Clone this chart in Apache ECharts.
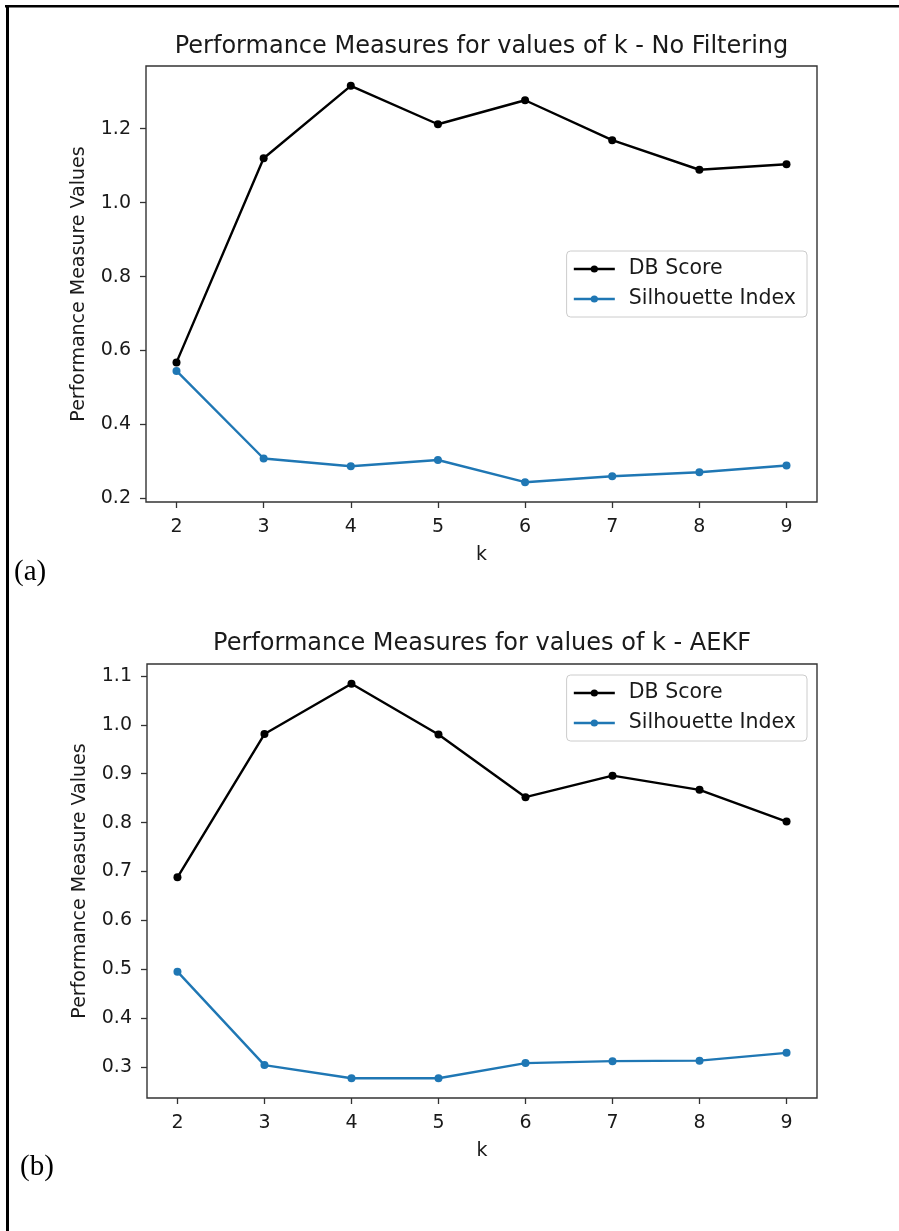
<!DOCTYPE html>
<html>
<head>
<meta charset="utf-8">
<script src="https://cdn.jsdelivr.net/npm/echarts@6/dist/echarts.min.js"></script>
<style>
  html, body { margin: 0; padding: 0; background: #ffffff; }
  #chart { width: 899px; height: 1231px; }
</style>
</head>
<body>
<div id="chart"></div>
<script>
// Number of clusters evaluated
const kValues = [2, 3, 4, 5, 6, 7, 8, 9];

// Panel (a): no filtering
const dbScoreNoFilter    = [0.568, 1.120, 1.316, 1.212, 1.277, 1.169, 1.089, 1.104];
const silhouetteNoFilter = [0.545, 0.308, 0.287, 0.304, 0.244, 0.260, 0.271, 0.289];

// Panel (b): AEKF
const dbScoreAekf    = [0.688, 0.981, 1.084, 0.980, 0.852, 0.896, 0.867, 0.802];
const silhouetteAekf = [0.495, 0.304, 0.277, 0.277, 0.308, 0.312, 0.313, 0.329];

// Tick labels
const xTicks = [2, 3, 4, 5, 6, 7, 8, 9];
const yTicksNoFilter = [0.2, 0.4, 0.6, 0.8, 1.0, 1.2];
const yTicksAekf = [0.3, 0.4, 0.5, 0.6, 0.7, 0.8, 0.9, 1.0, 1.1];

const panelTitles = [
  'Performance Measures for values of k - No Filtering',
  'Performance Measures for values of k - AEKF'
];
const panelTags = ['(a)', '(b)'];
const seriesNames = ['DB Score', 'Silhouette Index'];

const FONT = 'DejaVu Sans';
const INK = '#1a1a1a';
const SPINE = '#333333';
const COLORS = ['#000000', '#1f77b4'];

// 5% padding on each side of the data range, like matplotlib autoscaling
const padMin = e => e.min - 0.05 * (e.max - e.min);
const padMax = e => e.max + 0.05 * (e.max - e.min);

const grids = [
  { left: 146, top: 66, width: 671, height: 436 },
  { left: 147, top: 664, width: 670, height: 434 }
];

function xAxisFor(gridIndex) {
  return {
    type: 'value', gridIndex,
    min: padMin, max: padMax,
    axisLine: { show: false },
    splitLine: { show: false },
    axisTick: { show: true, length: 6, customValues: xTicks,
                lineStyle: { color: SPINE, width: 1.3 } },
    axisLabel: { customValues: xTicks, margin: 16, fontSize: 19,
                 fontFamily: FONT, color: INK },
    name: 'k', nameLocation: 'middle', nameGap: 44,
    nameTextStyle: { fontSize: 19, fontFamily: FONT, color: INK }
  };
}

function yAxisFor(gridIndex, ticks) {
  return {
    type: 'value', gridIndex,
    min: padMin, max: padMax,
    axisLine: { show: false },
    splitLine: { show: false },
    axisTick: { show: true, length: 6, customValues: ticks,
                lineStyle: { color: SPINE, width: 1.3 } },
    axisLabel: { customValues: ticks, margin: 15, fontSize: 19,
                 fontFamily: FONT, color: INK,
                 formatter: v => v.toFixed(1) },
    name: 'Performance Measure Values', nameLocation: 'middle',
    nameGap: 57, nameRotate: 90,
    nameTextStyle: { fontSize: 19, fontFamily: FONT, color: INK }
  };
}

function lineSeries(name, values, idx, color) {
  return {
    type: 'line', name,
    xAxisIndex: idx, yAxisIndex: idx,
    data: kValues.map((k, i) => [k, values[i]]),
    symbol: 'circle', symbolSize: 8,
    showSymbol: true,
    lineStyle: { color, width: 2.4 },
    itemStyle: { color },
    emphasis: { disabled: true },
    animation: false
  };
}

function legendFor(idx, top) {
  return {
    orient: 'vertical',
    right: 92, top,
    data: seriesNames.map(n => ({ name: n })),
    itemWidth: 41, itemHeight: 9, itemGap: 8,
    padding: [7, 11, 7, 6],
    borderColor: '#cccccc', borderWidth: 1, borderRadius: 4,
    backgroundColor: 'rgba(255,255,255,0.8)',
    lineStyle: { width: 2.4 },
    textStyle: { fontSize: 20.5, fontFamily: FONT, color: INK,
                 lineHeight: 22, padding: [0, 0, 0, 9] },
    selectedMode: false
  };
}

const chart = echarts.init(document.getElementById('chart'), null, { renderer: 'canvas' });

chart.setOption({
  animation: false,
  backgroundColor: '#ffffff',
  title: [
    { text: panelTitles[0], left: 481.5, top: 33, textAlign: 'center', padding: 0,
      textStyle: { fontSize: 24, fontWeight: 'normal', fontFamily: FONT, color: INK, lineHeight: 28 } },
    { text: panelTitles[1], left: 482, top: 630, textAlign: 'center', padding: 0,
      textStyle: { fontSize: 24, fontWeight: 'normal', fontFamily: FONT, color: INK, lineHeight: 28 } }
  ],
  grid: grids.map(g => Object.assign({ show: true, borderColor: SPINE, borderWidth: 1.4,
                                       backgroundColor: 'transparent' }, g)),
  xAxis: [xAxisFor(0), xAxisFor(1)],
  yAxis: [yAxisFor(0, yTicksNoFilter), yAxisFor(1, yTicksAekf)],
  legend: [legendFor(0, 251), legendFor(1, 675)],
  series: [
    lineSeries(seriesNames[0], dbScoreNoFilter, 0, COLORS[0]),
    lineSeries(seriesNames[1], silhouetteNoFilter, 0, COLORS[1]),
    lineSeries(seriesNames[0], dbScoreAekf, 1, COLORS[0]),
    lineSeries(seriesNames[1], silhouetteAekf, 1, COLORS[1])
  ],
  graphic: [
    // page frame: top and left rules
    { type: 'rect', shape: { x: 5, y: 5, width: 894, height: 2.5 }, style: { fill: '#000' }, silent: true },
    { type: 'rect', shape: { x: 6, y: 5, width: 3, height: 1226 }, style: { fill: '#000' }, silent: true },
    { type: 'text', left: 14, top: 558,
      style: { text: panelTags[0], font: '29px "Liberation Serif", "Times New Roman", serif', fill: '#000' } },
    { type: 'text', left: 20, top: 1153,
      style: { text: panelTags[1], font: '29px "Liberation Serif", "Times New Roman", serif', fill: '#000' } }
  ]
});
</script>
</body>
</html>
